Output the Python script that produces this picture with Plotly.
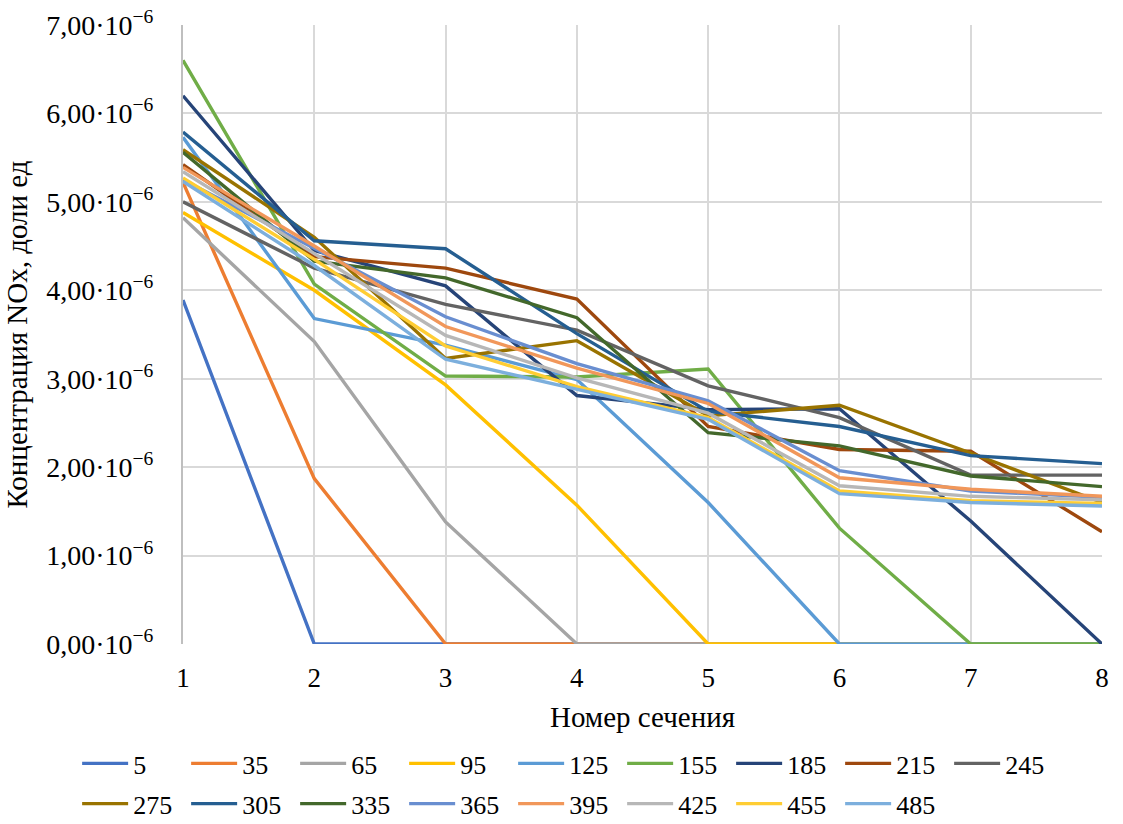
import plotly.graph_objects as go

# Cross-section numbers
sections = [1, 2, 3, 4, 5, 6, 7, 8]

# NOx concentration, in units of 1e-6 (доли ед)
s5   = [3.89, 0.0, 0.0, 0.0, 0.0, 0.0, 0.0, 0.0]
s35  = [5.22, 1.87, 0.0, 0.0, 0.0, 0.0, 0.0, 0.0]
s65  = [4.82, 3.42, 1.38, 0.0, 0.0, 0.0, 0.0, 0.0]
s95  = [4.88, 4.00, 2.93, 1.57, 0.0, 0.0, 0.0, 0.0]
s125 = [5.73, 3.68, 3.38, 2.99, 1.60, 0.0, 0.0, 0.0]
s155 = [6.60, 4.07, 3.03, 3.02, 3.11, 1.31, 0.0, 0.0]
s185 = [6.20, 4.45, 4.05, 2.81, 2.65, 2.66, 1.39, 0.0]
s215 = [5.42, 4.38, 4.25, 3.90, 2.46, 2.20, 2.18, 1.27]
s245 = [5.00, 4.25, 3.84, 3.55, 2.92, 2.56, 1.91, 1.91]
s275 = [5.59, 4.60, 3.23, 3.43, 2.58, 2.70, 2.16, 1.60]
s305 = [5.79, 4.56, 4.47, 3.51, 2.63, 2.46, 2.13, 2.04]
s335 = [5.56, 4.33, 4.14, 3.69, 2.39, 2.24, 1.90, 1.78]
s365 = [5.25, 4.47, 3.70, 3.17, 2.75, 1.96, 1.73, 1.66]
s395 = [5.39, 4.50, 3.59, 3.12, 2.72, 1.88, 1.75, 1.67]
s425 = [5.34, 4.42, 3.49, 3.01, 2.61, 1.79, 1.67, 1.63]
s455 = [5.27, 4.35, 3.37, 2.91, 2.56, 1.73, 1.62, 1.59]
s485 = [5.23, 4.28, 3.22, 2.88, 2.54, 1.70, 1.60, 1.56]

names = ["5", "35", "65", "95", "125", "155", "185", "215", "245",
         "275", "305", "335", "365", "395", "425", "455", "485"]
series = [s5, s35, s65, s95, s125, s155, s185, s215, s245,
          s275, s305, s335, s365, s395, s425, s455, s485]
colors = ["#4472C4", "#ED7D31", "#A5A5A5", "#FFC000", "#5B9BD5", "#70AD47",
          "#264478", "#9E480E", "#636363", "#997300", "#255E91", "#43682B",
          "#698ED0", "#F1975A", "#B7B7B7", "#FFCD33", "#7CAFDD"]

y_ticks = [0, 1, 2, 3, 4, 5, 6, 7]
y_ticktext = [f"{v},00·10<sup>−6</sup>" for v in y_ticks]

FONT = "Liberation Serif, Times New Roman, serif"

fig = go.Figure()
for i, (nm, vals, col) in enumerate(zip(names, series, colors)):
    fig.add_trace(go.Scatter(
        x=sections, y=[v * 1e-6 for v in vals], name=nm, mode="lines",
        line=dict(color=col, width=3.4),
        legend="legend" if i < 9 else "legend2",
    ))

legend_common = dict(
    orientation="h", xanchor="left", yanchor="middle",
    font=dict(family=FONT, size=26, color="#000000"),
    itemwidth=46,
    entrywidth=48, entrywidthmode="pixels",
    bgcolor="rgba(0,0,0,0)", itemclick=False,
)

fig.update_layout(
    width=1123, height=824,
    paper_bgcolor="white", plot_bgcolor="white",
    margin=dict(l=183, r=21, t=25, b=180, autoexpand=False),
    font=dict(family=FONT, size=26, color="#000000"),
    legend=dict(x=-0.1152, y=-0.193, **legend_common),
    legend2=dict(x=-0.1152, y=-0.258, **legend_common),
    xaxis=dict(
        range=[1, 8], tickvals=sections, ticktext=[str(s) for s in sections],
        showgrid=True, gridcolor="#D9D9D9", gridwidth=2,
        showline=False, zeroline=False, ticks="",
        ticklabelstandoff=15, ticklabeloverflow="allow",
        title=dict(text="Номер сечения", standoff=14,
                   font=dict(family=FONT, size=29)),
        tickfont=dict(family=FONT, size=27),
    ),
    yaxis=dict(
        range=[0, 7e-6], tickvals=[v * 1e-6 for v in y_ticks], ticktext=y_ticktext,
        showgrid=True, gridcolor="#D9D9D9", gridwidth=2,
        showline=True, linecolor="#BFBFBF", linewidth=2,
        zeroline=False, ticks="", ticklabelstandoff=22,
        ticklabeloverflow="allow",
        title=dict(text="Концентрация NOx, доли ед", standoff=10,
                   font=dict(family=FONT, size=29)),
        tickfont=dict(family=FONT, size=28),
    ),
)

fig.write_html("out.html", config={"displayModeBar": False},
               post_script="document.body.style.margin='0px';")
